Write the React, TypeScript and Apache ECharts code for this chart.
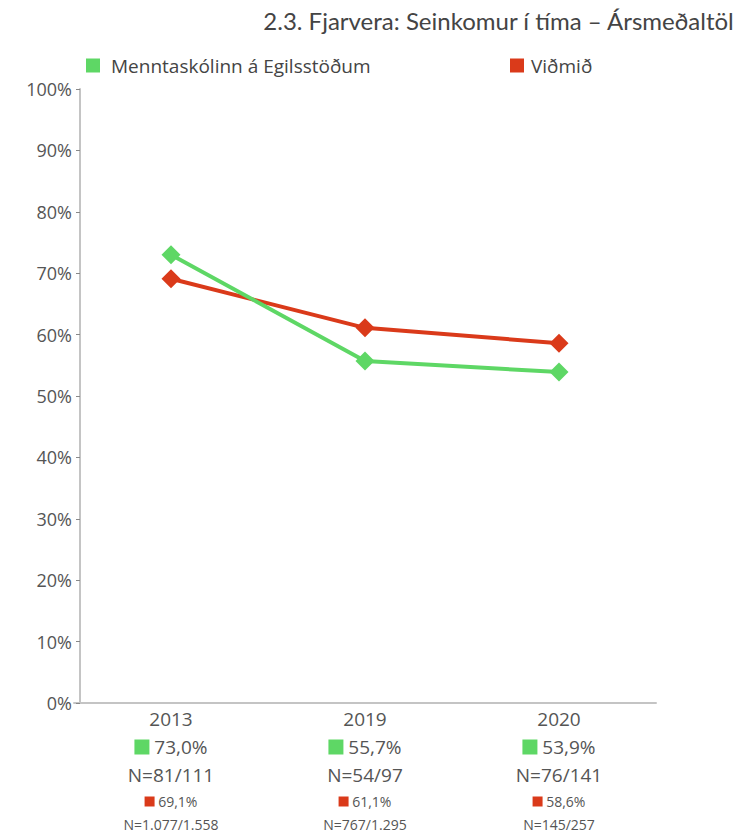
import React, { useEffect, useRef } from "react";
import * as echarts from "echarts";

const years = ["2013", "2019", "2020"];
const schoolName = "Menntaskólinn á Egilsstöðum";
const benchName = "Viðmið";
const schoolValues = [73.0, 55.7, 53.9];
const benchValues = [69.1, 61.1, 58.6];
const schoolN = ["N=81/111", "N=54/97", "N=76/141"];
const benchN = ["N=1.077/1.558", "N=767/1.295", "N=145/257"];
const yTicks = [0, 10, 20, 30, 40, 50, 60, 70, 80, 90, 100];

const GREEN = "#5ed765";
const RED = "#da3a1a";
const TEXT = "#555555";
const FONT = "Lato, 'Open Sans', sans-serif";
const FONT2 = "'Open Sans', Lato, sans-serif";

const fmt = (v: number) => v.toFixed(1).replace(".", ",") + "%";

export default function App() {
  const ref = useRef<HTMLDivElement>(null);
  useEffect(() => {
    if (!ref.current) return;
    const chart = echarts.init(ref.current, null, { renderer: "svg" });
    chart.setOption({
      animation: false,
      backgroundColor: "#ffffff",
      textStyle: { fontFamily: FONT },
      title: {
        text: "2.3. Fjarvera: Seinkomur í tíma – Ársmeðaltöl",
        right: 0,
        top: 3,
        textStyle: { fontSize: 24, fontWeight: "normal", color: "#444444", fontFamily: FONT },
      },
      legend: [
        {
          data: [schoolName],
          left: 81,
          top: 51,
          icon: "rect",
          itemWidth: 14,
          itemHeight: 14,
          textStyle: { fontSize: 19, color: "#444444", fontFamily: FONT2, padding: [0, 0, 0, 6] },
        },
        {
          data: [benchName],
          left: 505,
          top: 51,
          icon: "rect",
          itemWidth: 14,
          itemHeight: 14,
          textStyle: { fontSize: 19, color: "#444444", fontFamily: FONT2, padding: [0, 0, 0, 2] },
        },
      ],
      grid: { left: 74, right: 84, top: 89, bottom: 131, containLabel: false },
      xAxis: {
        type: "category",
        data: years,
        boundaryGap: true,
        axisLine: { lineStyle: { color: "#c4c4c4", width: 2 } },
        axisTick: { show: false },
        axisLabel: {
          margin: 3,
          interval: 0,
          color: TEXT,
          formatter: (val: string, idx: number) =>
            `{year|${val}}\n{gsq|}{gp| ${fmt(schoolValues[idx])}}\n{n|${schoolN[idx]}}\n{rsq|}{rp| ${fmt(
              benchValues[idx]
            )}}\n{ns|${benchN[idx]}}`,
          rich: {
            year: { fontSize: 19, lineHeight: 26, color: TEXT, fontFamily: FONT2 },
            gsq: { width: 15, height: 15, backgroundColor: GREEN, lineHeight: 30 },
            gp: { fontSize: 19, lineHeight: 30, color: TEXT, fontFamily: FONT2 },
            n: { fontSize: 19, lineHeight: 26, color: TEXT, fontFamily: FONT2 },
            rsq: { width: 10, height: 10, backgroundColor: RED, lineHeight: 27 },
            rp: { fontSize: 14, lineHeight: 27, color: TEXT, fontFamily: FONT2 },
            ns: { fontSize: 14, lineHeight: 18, color: TEXT, fontFamily: FONT2 },
          },
        },
      },
      yAxis: {
        type: "value",
        min: yTicks[0],
        max: yTicks[yTicks.length - 1],
        interval: 10,
        offset: -6,
        splitLine: { show: false },
        axisLine: { show: true, lineStyle: { color: "#c4c4c4", width: 2 } },
        axisTick: { show: true, length: 4, lineStyle: { color: "#888888" } },
        axisLabel: {
          formatter: "{value}%",
          fontSize: 18,
          color: TEXT,
          margin: 8,
          fontFamily: FONT2,
        },
      },
      series: [
        {
          name: benchName,
          type: "line",
          data: benchValues,
          symbol: "diamond",
          symbolSize: 19,
          itemStyle: { color: RED },
          lineStyle: { color: RED, width: 4 },
          z: 2,
        },
        {
          name: schoolName,
          type: "line",
          data: schoolValues,
          symbol: "diamond",
          symbolSize: 19,
          itemStyle: { color: GREEN },
          lineStyle: { color: GREEN, width: 4 },
          z: 3,
        },
      ],
    });
    return () => chart.dispose();
  }, []);
  return (
    <div
      ref={ref}
      style={{ position: "fixed", left: 0, top: 0, width: 740, height: 834 }}
    />
  );
}
